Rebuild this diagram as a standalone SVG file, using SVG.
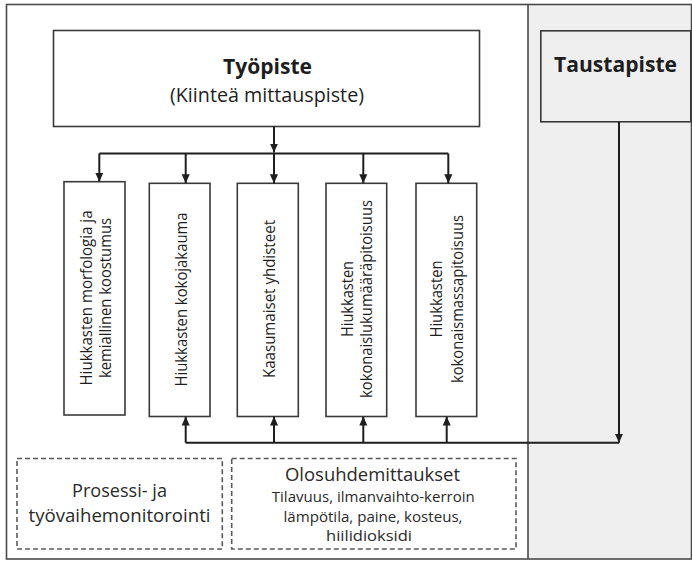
<svg xmlns="http://www.w3.org/2000/svg" width="692" height="561" viewBox="0 0 692 561">
  <defs>
    <marker id="arr" viewBox="0 0 10 10" refX="10" refY="5" markerWidth="9" markerHeight="9" markerUnits="userSpaceOnUse" orient="auto">
      <path d="M0,0.5 L10,5 L0,9.5 Z" fill="#1e1e1e"/>
    </marker>
    <style>
      .frame { fill: none; stroke: #4a4a4a; stroke-width: 1.6; }
      .box { fill: #ffffff; stroke: #3a3a3a; stroke-width: 1.6; }
      .gbox { fill: #efeff0; stroke: #3a3a3a; stroke-width: 1.6; }
      .dash { fill: none; stroke: #5a5a5a; stroke-width: 1.6; stroke-dasharray: 5 3; }
      .conn { fill: none; stroke: #1e1e1e; stroke-width: 2; }
      .arr { marker-end: url(#arr); }
      text { font-family: "Open Sans", "Liberation Sans", sans-serif; fill: #1e1e1e; text-anchor: middle; }
      .title { font-size: 22px; font-weight: bold; }
      .sub { font-size: 19.5px; }
      .vlab { font-size: 16px; }
      .big { font-size: 19px; fill: #2a2a2a; }
      .small { font-size: 15px; fill: #2a2a2a; }
    </style>
  </defs>

  <!-- background panels -->
  <rect x="0" y="0" width="692" height="561" fill="#ffffff"/>
  <rect x="528" y="4.5" width="164" height="555" fill="#efeff0"/>
  <g id="frame">
    <rect class="frame" x="6.5" y="4.5" width="685" height="554.5"/>
    <line class="frame" x1="528" y1="4.5" x2="528" y2="559"/>
  </g>

  <g id="tyopiste">
    <rect class="box" x="53.5" y="30.5" width="426" height="96"/>
    <text class="title" x="267.5" y="74" textLength="89" lengthAdjust="spacingAndGlyphs">Työpiste</text>
    <text class="sub" x="267" y="101.5" textLength="194" lengthAdjust="spacingAndGlyphs">(Kiinteä mittauspiste)</text>
  </g>

  <g id="taustapiste">
    <rect class="gbox" x="540.8" y="30.8" width="150" height="91"/>
    <text class="title" x="615.5" y="71.7" textLength="123" lengthAdjust="spacingAndGlyphs">Taustapiste</text>
  </g>

  <g id="morfologia">
    <rect class="box" x="64" y="181.7" width="61" height="233.3"/>
    <g transform="translate(94.5,298) rotate(-90)">
      <text class="vlab" x="0" y="-2.8" textLength="175" lengthAdjust="spacingAndGlyphs">Hiukkasten morfologia ja</text>
      <text class="vlab" x="0" y="16.5" textLength="160" lengthAdjust="spacingAndGlyphs">kemiallinen koostumus</text>
    </g>
  </g>

  <g id="kokojakauma">
    <rect class="box" x="149.3" y="183.3" width="60.7" height="233.2"/>
    <g transform="translate(179.7,299.5) rotate(-90)">
      <text class="vlab" x="0" y="7" textLength="174" lengthAdjust="spacingAndGlyphs">Hiukkasten kokojakauma</text>
    </g>
  </g>

  <g id="kaasumaiset">
    <rect class="box" x="237.3" y="183.3" width="61" height="233.2"/>
    <g transform="translate(267.8,299) rotate(-90)">
      <text class="vlab" x="0" y="7.2" textLength="158" lengthAdjust="spacingAndGlyphs">Kaasumaiset yhdisteet</text>
    </g>
  </g>

  <g id="lukumaara">
    <rect class="box" x="326" y="183.3" width="60.7" height="233.2"/>
    <g transform="translate(356.3,299) rotate(-90)">
      <text class="vlab" x="0" y="-3.6" textLength="76" lengthAdjust="spacingAndGlyphs">Hiukkasten</text>
      <text class="vlab" x="0" y="15.4" textLength="198" lengthAdjust="spacingAndGlyphs">kokonaislukumääräpitoisuus</text>
    </g>
  </g>

  <g id="massa">
    <rect class="box" x="416" y="183.3" width="60.7" height="233.2"/>
    <g transform="translate(446.3,299) rotate(-90)">
      <text class="vlab" x="0" y="-4.6" textLength="77" lengthAdjust="spacingAndGlyphs">Hiukkasten</text>
      <text class="vlab" x="0" y="16.4" textLength="168" lengthAdjust="spacingAndGlyphs">kokonaismassapitoisuus</text>
    </g>
  </g>

  <g id="prosessi">
    <rect class="dash" x="17" y="458.5" width="205.3" height="90.5"/>
    <text class="big" x="119.5" y="497.3" textLength="95" lengthAdjust="spacingAndGlyphs">Prosessi- ja</text>
    <text class="big" x="119.5" y="521.7" textLength="182" lengthAdjust="spacingAndGlyphs">työvaihemonitorointi</text>
  </g>

  <g id="olosuhde">
    <rect class="dash" x="231.7" y="458.5" width="284.3" height="90.5"/>
    <text class="big" x="372.5" y="480.5" textLength="175" lengthAdjust="spacingAndGlyphs">Olosuhdemittaukset</text>
    <text class="small" x="373.3" y="502" textLength="203" lengthAdjust="spacingAndGlyphs">Tilavuus, ilmanvaihto-kerroin</text>
    <text class="small" x="373" y="521.5" textLength="179" lengthAdjust="spacingAndGlyphs">lämpötila, paine, kosteus,</text>
    <text class="small" x="369" y="541" textLength="86" lengthAdjust="spacingAndGlyphs">hiilidioksidi</text>
  </g>

  <g id="connectors">
    <path class="conn arr" d="M274,126.5 V152.5"/>
    <path class="conn" d="M99.3,153.5 H448.3"/>
    <path class="conn arr" d="M99.3,153.5 V181.7"/>
    <path class="conn arr" d="M185.7,153.5 V183.3"/>
    <path class="conn arr" d="M274,153.5 V183.3"/>
    <path class="conn arr" d="M363.3,153.5 V183.3"/>
    <path class="conn arr" d="M448.3,153.5 V183.3"/>
    <path class="conn" d="M185.7,442.7 H619"/>
    <path class="conn arr" d="M185.7,442.7 V416.5"/>
    <path class="conn arr" d="M274,442.7 V416.5"/>
    <path class="conn arr" d="M363.3,442.7 V416.5"/>
    <path class="conn arr" d="M446.7,442.7 V416.5"/>
    <path class="conn arr" d="M619,121.8 V442.7"/>
  </g>
</svg>
